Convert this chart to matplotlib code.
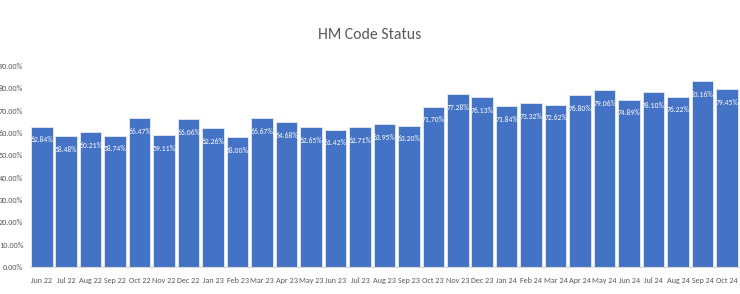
import numpy as np
import matplotlib
matplotlib.use("Agg")
import matplotlib.pyplot as plt
from matplotlib.ticker import PercentFormatter

plt.rcParams['font.family'] = ['Carlito', 'DejaVu Sans']

# months shown on the x axis
months = ['Jun 22', 'Jul 22', 'Aug 22', 'Sep 22', 'Oct 22', 'Nov 22', 'Dec 22',
          'Jan 23', 'Feb 23', 'Mar 23', 'Apr 23', 'May 23', 'Jun 23', 'Jul 23',
          'Aug 23', 'Sep 23', 'Oct 23', 'Nov 23', 'Dec 23', 'Jan 24', 'Feb 24',
          'Mar 24', 'Apr 24', 'May 24', 'Jun 24', 'Jul 24', 'Aug 24', 'Sep 24',
          'Oct 24']

# code status percentage per month
status = [62.84, 58.48, 60.21, 58.74, 66.47, 59.11, 66.06, 62.26, 58.00,
          66.67, 64.68, 62.65, 61.42, 62.71, 63.95, 63.20, 71.70, 77.28,
          76.13, 71.84, 73.32, 72.62, 76.80, 79.06, 74.89, 78.10, 76.22,
          83.16, 79.45]

fig = plt.figure(figsize=(7.4, 2.94), dpi=100)
ax = fig.add_axes([0.0399, 0.092, 0.959, 0.684])

x = np.arange(len(months))
vals = np.array(status) / 100
ax.bar(x, vals, width=0.88, color='#4472C4', edgecolor='#DCE3F0', linewidth=0.7)

# value labels just inside the top of each bar
for xi, v in zip(x, vals):
    ax.annotate('%.2f%%' % (v * 100), (xi, v), xytext=(0, -9.5),
                textcoords='offset points', ha='center', va='center',
                color='white', fontsize=5.5)

ax.set_ylim(0, 0.9)
ax.set_xlim(-0.5, len(months) - 0.5)
ax.set_yticks(np.arange(0, 0.91, 0.1))
ax.yaxis.set_major_formatter(PercentFormatter(1.0, decimals=2))
ax.set_xticks(x)
ax.set_xticklabels(months)
ax.tick_params(axis='both', length=0, labelsize=5.9, colors='#595959')
ax.tick_params(axis='x', pad=7)
ax.tick_params(axis='y', pad=4.5)
for s in ['top', 'right', 'left']:
    ax.spines[s].set_visible(False)
ax.spines['bottom'].set_color('#D9D9D9')

fig.text(0.5, 0.881, 'HM Code Status', ha='center', va='center',
         fontsize=11.3, color='#595959')

fig.savefig('out.png', dpi=100)
